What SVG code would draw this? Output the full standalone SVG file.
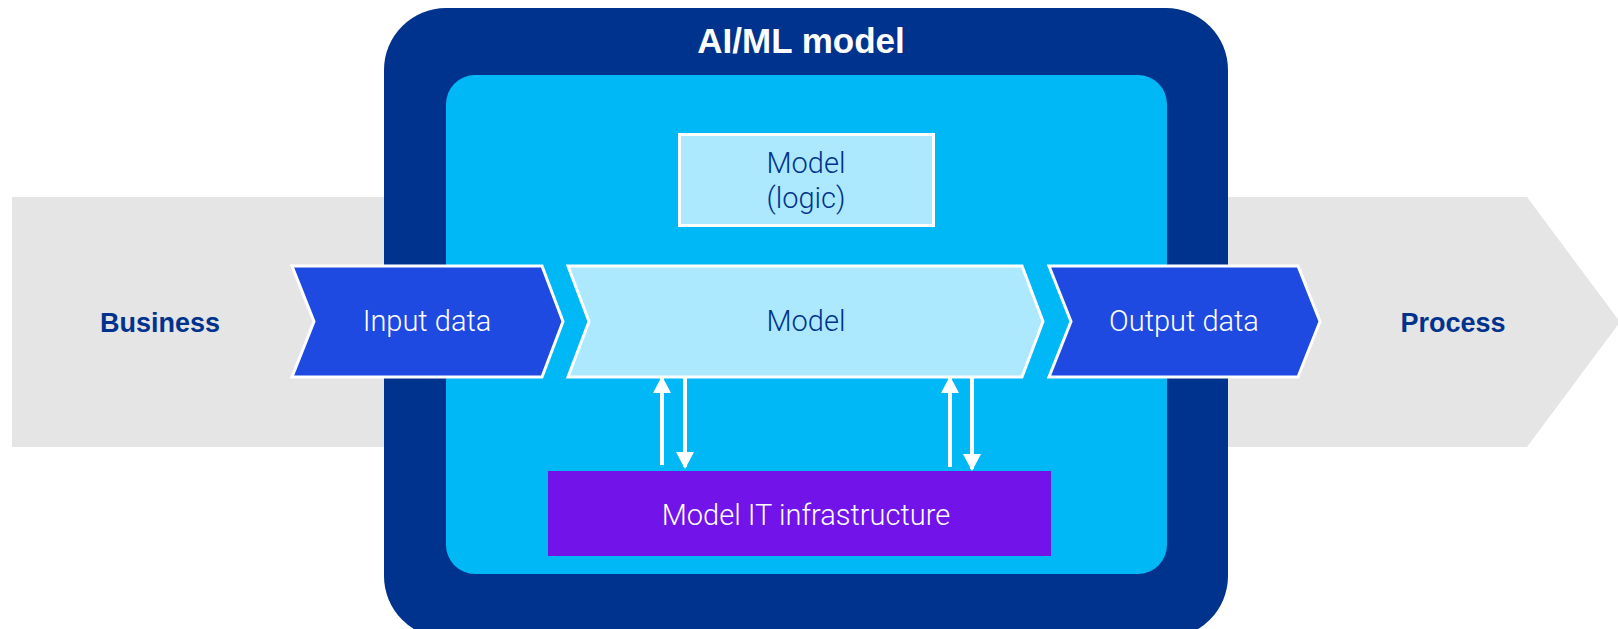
<svg xmlns="http://www.w3.org/2000/svg" width="1618" height="629" viewBox="0 0 1618 629">
<style>
.lbl{font-family:Roboto,"Liberation Sans",sans-serif;font-weight:300;font-size:29px;text-anchor:middle}
.bold{font-family:"Liberation Sans",Arial,sans-serif;font-weight:bold;text-anchor:middle;fill:#00338D}
.white{fill:#FFFFFF}
.navy{fill:#00338D}
.chev{stroke:#FFFFFF;stroke-width:3}
.conn{stroke:#FFFFFF;stroke-width:4;fill:none}
</style>
<defs>
<marker id="ah" markerUnits="userSpaceOnUse" markerWidth="18" markerHeight="18" refX="15" refY="9" orient="auto">
<path d="M0,0 L17,9 L0,18 Z" fill="#FFFFFF"/>
</marker>
</defs>
<rect width="1618" height="629" fill="#FFFFFF"/>
<g id="process-band">
<polygon points="12,197 1527,197 1620,322 1527,447 12,447" fill="#E5E5E5"/>
<text class="bold" x="160" y="332" font-size="27">Business</text>
<text class="bold" x="1453" y="332" font-size="27">Process</text>
</g>
<g id="aiml-model">
<rect x="384" y="8" width="844" height="630" rx="62" fill="#00338D"/>
<text class="bold" x="801" y="53" font-size="35" style="fill:#FFFFFF">AI/ML model</text>
<rect x="446" y="75" width="721" height="499" rx="29" fill="#00B8F5"/>
</g>
<g id="model-logic">
<rect x="679.5" y="134.5" width="254" height="91" fill="#ACE9FE" stroke="#FFFFFF" stroke-width="3"/>
<text class="lbl navy" x="806" y="173">Model</text>
<text class="lbl navy" x="806" y="208">(logic)</text>
</g>
<g id="input-data">
<polygon class="chev" points="292,266 542,266 563,321.5 542,377 292,377 314,321.5" fill="#1F4AE2"/>
<text class="lbl white" x="427" y="331">Input data</text>
</g>
<g id="model">
<polygon class="chev" points="568,266 1022,266 1043,321.5 1022,377 568,377 589,321.5" fill="#ACE9FE"/>
<text class="lbl navy" x="806" y="331">Model</text>
</g>
<g id="output-data">
<polygon class="chev" points="1049,266 1298,266 1320,321.5 1298,377 1049,377 1071,321.5" fill="#1F4AE2"/>
<text class="lbl white" x="1184" y="331">Output data</text>
</g>
<g id="it-infrastructure">
<rect x="548" y="471" width="503" height="85" fill="#7213EA"/>
<text class="lbl white" x="806" y="525">Model IT infrastructure</text>
</g>
<g id="connectors">
<line class="conn" x1="662" y1="465" x2="662" y2="378" marker-end="url(#ah)"/>
<line class="conn" x1="685" y1="378" x2="685" y2="467" marker-end="url(#ah)"/>
<line class="conn" x1="950" y1="467" x2="950" y2="378" marker-end="url(#ah)"/>
<line class="conn" x1="972" y1="378" x2="972" y2="469" marker-end="url(#ah)"/>
</g>
</svg>
